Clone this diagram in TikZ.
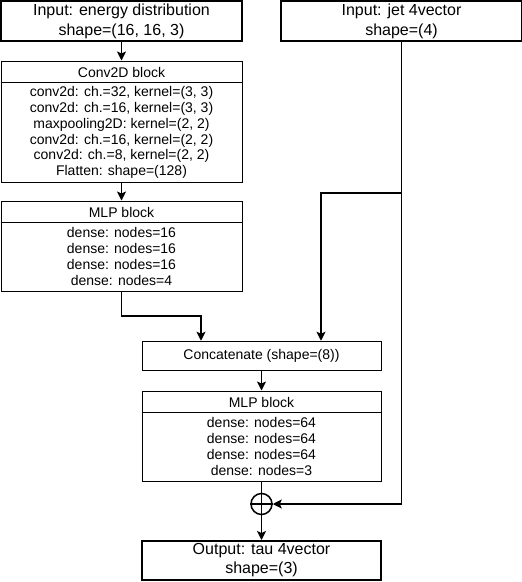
\documentclass[tikz,border=0pt]{standalone}
\usepackage{fontspec}
\setmainfont{Liberation Sans}
\usetikzlibrary{arrows.meta,calc}

\begin{document}
\begin{tikzpicture}[> = {Stealth[length=9pt,width=9pt,inset=2pt]}, x = 1pt, y = -1pt,
	io/.style = {draw, line width=2pt, minimum width=241pt, minimum height=40pt, inner sep=0pt, align=center, font=\fontsize{16}{20}\selectfont},
	blk/.style = {draw, line width=1pt, minimum width=241pt, inner sep=0pt},
	txt/.style = {inner sep=0pt, align=center, font=\fontsize{14}{15.8}\selectfont},
	con/.style = {line width=1.5pt}]
		\useasboundingbox (0,0) rectangle (522,582);
		% inputs
		\node[io] (inE) at (121.5,21) {Input: energy distribution\\shape=(16, 16, 3)};
		\node[io] (inJ) at (401.5,21) {Input: jet 4vector\\shape=(4)};
		% Conv2D block
		\node[blk, minimum height=121pt] (conv) at (121.5,121.5) {};
		\draw[line width=1pt] ($(conv.north west)+(0,21.5)$) -- ($(conv.north east)+(0,21.5)$);
		\node[txt] (convH) at (121.5,72) {Conv2D block};
		\node[txt] (convB) at (121.5,132.5) {conv2d: ch.=32, kernel=(3, 3)\\conv2d: ch.=16, kernel=(3, 3)\\maxpooling2D: kernel=(2, 2)\\conv2d: ch.=16, kernel=(2, 2)\\conv2d: ch.=8, kernel=(2, 2)\\Flatten: shape=(128)};
		% first MLP block
		\node[blk, minimum height=90pt] (mlpA) at (121.5,246) {};
		\draw[line width=1pt] ($(mlpA.north west)+(0,21.5)$) -- ($(mlpA.north east)+(0,21.5)$);
		\node[txt] (mlpAH) at (121.5,212) {MLP block};
		\node[txt] (mlpAB) at (121.5,256.5) {dense: nodes=16\\dense: nodes=16\\dense: nodes=16\\dense: nodes=4};
		% concatenate
		\node[blk, minimum width=239pt, minimum height=29.5pt, font=\fontsize{14}{16}\selectfont] (cat) at (261.5,356) {Concatenate (shape=(8))};
		% second MLP block
		\node[blk, minimum width=239pt, minimum height=90pt] (mlpB) at (261.5,436) {};
		\draw[line width=1pt] ($(mlpB.north west)+(0,21.5)$) -- ($(mlpB.north east)+(0,21.5)$);
		\node[txt] (mlpBH) at (261.5,402) {MLP block};
		\node[txt] (mlpBB) at (261.5,446.5) {dense: nodes=64\\dense: nodes=64\\dense: nodes=64\\dense: nodes=3};
		% sum and output
		\node[draw, circle, line width=1.5pt, minimum size=21pt, inner sep=0pt] (sum) at (261.5,504) {};
		\draw[con] (sum.north) -- (sum.south) (sum.west) -- (sum.east);
		\node[io, minimum width=239pt, minimum height=39pt, font=\fontsize{16}{19}\selectfont] (out) at (261.5,560.5) {Output: tau 4vector\\shape=(3)};
		% connectors
		\coordinate (k1) at (201,316);
		\coordinate (k2) at (321,193);
		\draw[con,->] (inE) -- (conv);
		\draw[con,->] (conv) -- (mlpA);
		\draw[con,->] (mlpA.south) |- (k1) -- (k1 |- cat.north);
		\draw[con,->] (inJ.south) |- (sum.east);
		\draw[con,->] (inJ.south |- k2) -- (k2) -- (k2 |- cat.north);
		\draw[con,->] (cat) -- (mlpB);
		\draw[con] (mlpB) -- (sum);
		\draw[con,->] (sum) -- (out);
	\end{tikzpicture}
\end{document}
